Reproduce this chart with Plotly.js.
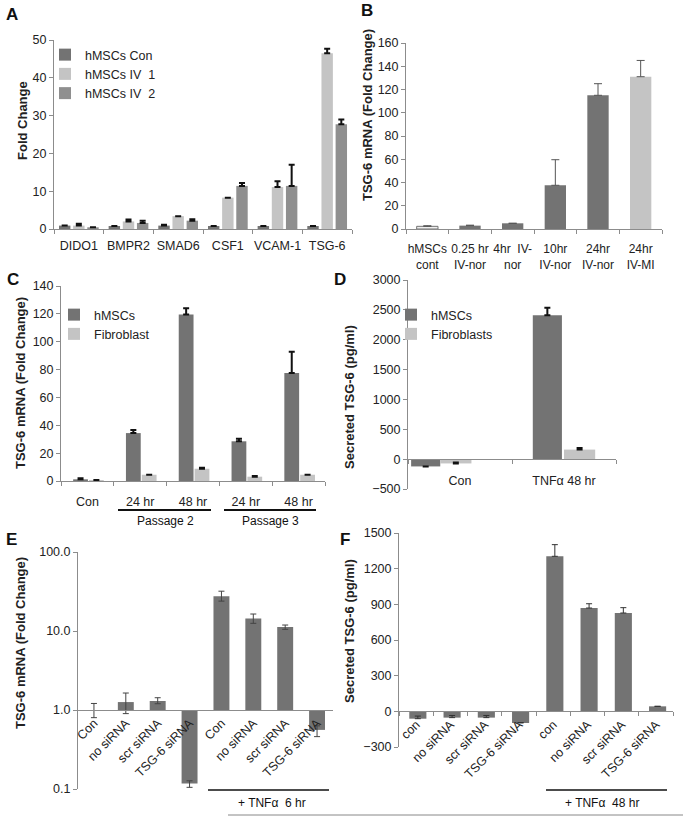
<!DOCTYPE html>
<html>
<head>
<meta charset="utf-8">
<script src="https://cdn.plot.ly/plotly-3.0.1.min.js"></script>
<style>
  body { margin: 0; background: #fff; }
  #chart { width: 683px; height: 816px; }
</style>
</head>
<body>
<div id="chart"></div>
<script>
// ---- data ----
// A: gene panel
const genesA = ['DIDO1', 'BMPR2', 'SMAD6', 'CSF1', 'VCAM-1', 'TSG-6'];
const conA = [0.9, 0.8, 0.9, 0.8, 0.8, 0.8];
const conErrA = [0, 0, 0.25, 0, 0, 0];
const iv1A = [0.9, 2.0, 3.4, 8.3, 11.1, 46.5];
const iv1ErrA = [0.5, 0.5, 0, 0, 1.5, 1.2];
const iv2A = [0.45, 1.6, 2.2, 11.4, 11.4, 27.7];
const iv2ErrA = [0, 0.6, 0.4, 0.8, 5.6, 1.3];

// B: time course
const catsB = ['hMSCs<br>cont', '0.25 hr<br>IV-nor', '4hr  IV-<br>nor', '10hr<br>IV-nor', '24hr<br>IV-nor', '24hr<br>IV-MI'];
const valsB = [2.3, 2.9, 4.9, 37.6, 115, 131];
const errB = [0.5, 0.4, 0, 22, 10, 14];

// C: passages
const keysC = ['con', 'p2_24', 'p2_48', 'p3_24', 'p3_48'];
const labelsC = ['Con', '24 hr', '48 hr', '24 hr', '48 hr'];
const hmscC = [1.2, 34.4, 119.6, 28.5, 77.5];
const hmscErrC = [0.8, 2.2, 4.4, 1.9, 15.3];
const fibroC = [0.7, 4.5, 8.8, 3.1, 4.5];
const fibroErrC = [0, 0, 0.7, 0.5, 0];
const groupsC = ['Passage 2', 'Passage 3'];

// D: secreted protein
const catsD = ['Con', 'TNFα 48 hr'];
const hmscD = [-122, 2410];
const hmscErrD = [0, 125];
const fibroD = [-72, 160];
const fibroErrD = [16, 28];

// E: siRNA mRNA (log)
const keysE = ['e0', 'e1', 'e2', 'e3', 'e4', 'e5', 'e6', 'e7'];
const labelsE = ['Con', 'no siRNA', 'scr siRNA', 'TSG-6 siRNA', 'Con', 'no siRNA', 'scr siRNA', 'TSG-6 siRNA'];
const valsE = [1.0, 1.26, 1.30, 0.117, 27.6, 14.4, 11.2, 0.56];
const errUpE = [0.21, 0.38, 0.13, 0.010, 4.3, 2.0, 0.7, 0.07];
const errDnE = [0.20, 0.36, 0.10, 0.012, 3.7, 1.9, 0.7, 0.10];
const tickValsE = [0.1, 1, 10, 100];
const tickTextE = ['0.1', '1.0', '10.0', '100.0'];

// F: siRNA secreted
const keysF = ['f0', 'f1', 'f2', 'f3', 'f4', 'f5', 'f6', 'f7'];
const labelsF = ['con', 'no siRNA', 'scr siRNA', 'TSG-6 siRNA', 'con', 'no siRNA', 'scr siRNA', 'TSG-6 siRNA'];
const valsF = [-62, -53, -53, -98, 1304, 869, 827, 42];
const errF = [22, 18, 18, 4, 98, 36, 45, 0];

// ---- styling ----
const W = 683, H = 816;
const fx = p => p / W;
const fy = p => 1 - p / H;
const FONT = 'Liberation Sans, Arial, sans-serif';
const DARK = '#737373', MID = '#8f8f8f', LIGHT = '#c4c4c4';
const AXC = '#8c8c8c';

function errs(arr, color, thick, w) {
  return { type: 'data', symmetric: false, array: arr, arrayminus: arr.map(() => 0),
           color: color, thickness: thick, width: w };
}

const traces = [
  // A
  { type: 'bar', name: 'hMSCs Con', x: genesA, y: conA, xaxis: 'x', yaxis: 'y',
    width: 0.23, offset: -0.40, marker: { color: DARK }, error_y: errs(conErrA, '#111', 2, 3) },
  { type: 'bar', name: 'hMSCs IV  1', x: genesA, y: iv1A, xaxis: 'x', yaxis: 'y',
    width: 0.23, offset: -0.115, marker: { color: LIGHT }, error_y: errs(iv1ErrA, '#111', 2, 3) },
  { type: 'bar', name: 'hMSCs IV  2', x: genesA, y: iv2A, xaxis: 'x', yaxis: 'y',
    width: 0.23, offset: 0.17, marker: { color: MID }, error_y: errs(iv2ErrA, '#111', 2, 3) },
  // B
  { type: 'bar', x: catsB, y: valsB, xaxis: 'x2', yaxis: 'y2', showlegend: false,
    width: 0.5, offset: -0.25,
    marker: { color: ['#eeeeee', DARK, DARK, DARK, DARK, LIGHT],
              line: { color: DARK, width: [1, 0, 0, 0, 0, 0] } },
    error_y: errs(errB, '#555', 1, 4) },
  // C
  { type: 'bar', name: 'hMSCs', x: keysC, y: hmscC, xaxis: 'x3', yaxis: 'y3', legend: 'legend2',
    width: 0.28, offset: -0.27, marker: { color: DARK }, error_y: errs(hmscErrC, '#111', 2, 3) },
  { type: 'bar', name: 'Fibroblast', x: keysC, y: fibroC, xaxis: 'x3', yaxis: 'y3', legend: 'legend2',
    width: 0.28, offset: 0.03, marker: { color: LIGHT }, error_y: errs(fibroErrC, '#111', 2, 3) },
  // D
  { type: 'bar', name: 'hMSCs', x: catsD, y: hmscD, xaxis: 'x4', yaxis: 'y4', legend: 'legend3',
    width: 0.28, offset: [-0.47, -0.30], marker: { color: DARK }, error_y: errs(hmscErrD, '#111', 2, 3) },
  { type: 'bar', name: 'Fibroblasts', x: catsD, y: fibroD, xaxis: 'x4', yaxis: 'y4', legend: 'legend3',
    width: 0.30, offset: [-0.19, 0.0], marker: { color: LIGHT }, error_y: errs(fibroErrD, '#111', 2, 3) },
  // E (bars hang from 1.0 like the Excel log axis)
  { type: 'bar', x: keysE, y: valsE.map(v => v - 1), base: 1, xaxis: 'x5', yaxis: 'y5', showlegend: false,
    width: 0.5, offset: -0.25, marker: { color: DARK },
    error_y: { type: 'data', symmetric: false, array: errUpE, arrayminus: errDnE,
               color: '#444', thickness: 1, width: 3 } },
  // F
  { type: 'bar', x: keysF, y: valsF, xaxis: 'x6', yaxis: 'y6', showlegend: false,
    width: 0.5, offset: -0.2, marker: { color: DARK }, error_y: errs(errF, '#333', 1, 3) }
];

const tickFont = { family: FONT, size: 12.5, color: '#222' };
function yax(domTop, domBot, range, extra) {
  return Object.assign({
    domain: [fy(domBot), fy(domTop)], range: range, showline: true, linecolor: AXC, linewidth: 1,
    ticks: 'outside', ticklen: 4, tickcolor: AXC, showgrid: false, zeroline: false,
    tickfont: tickFont, fixedrange: true
  }, extra || {});
}
function xax(left, right, extra) {
  return Object.assign({
    domain: [fx(left), fx(right)], type: 'category', showline: true, linecolor: AXC, linewidth: 1,
    ticks: 'outside', tickson: 'boundaries', ticklen: 4, tickcolor: AXC, showgrid: false,
    zeroline: false, tickfont: tickFont, tickangle: 0, fixedrange: true
  }, extra || {});
}
// place a free x axis on the y = crossing value
function crossAt(yDom, range, v) {
  return yDom[0] + (v - range[0]) / (range[1] - range[0]) * (yDom[1] - yDom[0]);
}

const rangeD = [-500, 3000], rangeE = [-1, 2], rangeF = [-300, 1500];
const yD = yax(280, 489, rangeD, { dtick: 500, anchor: 'x4' });
const yE = yax(552, 789, rangeE, { type: 'log', tickvals: tickValsE, ticktext: tickTextE, anchor: 'x5' });
const yF = yax(533, 747, rangeF, { dtick: 300, anchor: 'x6' });

function ytitle(text, x, y) {
  return { text: '<b>' + text + '</b>', xref: 'paper', yref: 'paper', x: fx(x), y: fy(y),
           xanchor: 'center', yanchor: 'middle',
           textangle: -90, showarrow: false, font: { family: FONT, size: 13, color: '#222' } };
}
function label(text, x, y, size, bold) {
  return { text: bold ? '<b>' + text + '</b>' : text, xref: 'paper', yref: 'paper', x: fx(x), y: fy(y),
           xanchor: 'center', yanchor: 'middle',
           showarrow: false, font: { family: FONT, size: size, color: '#111' } };
}
function hline(x0, x1, y, w, c) {
  return { type: 'line', xref: 'paper', yref: 'paper', x0: fx(x0), x1: fx(x1), y0: fy(y), y1: fy(y),
           line: { color: c || '#111', width: w } };
}

const legendBase = { bgcolor: 'rgba(0,0,0,0)', font: { family: FONT, size: 12.5, color: '#222' },
                     xanchor: 'left', yanchor: 'top', tracegroupgap: 0, itemclick: false };

const layout = {
  width: W, height: H, margin: { l: 0, r: 0, t: 0, b: 0 },
  paper_bgcolor: '#fff', plot_bgcolor: '#fff', barmode: 'overlay',
  font: { family: FONT },
  xaxis: xax(54, 352, { anchor: 'y', ticklabelstandoff: 5 }),
  yaxis: yax(40, 229, [0, 50], { dtick: 10, anchor: 'x' }),
  xaxis2: xax(406, 662, { anchor: 'y2', ticklabelstandoff: 9,
                          tickfont: { family: FONT, size: 12, color: '#222' } }),
  yaxis2: yax(43, 229, [0, 160], { dtick: 20, anchor: 'x2' }),
  xaxis3: xax(61, 325, { anchor: 'y3', tickmode: 'array', tickvals: keysC, ticktext: labelsC,
                         ticklabelstandoff: 9 }),
  yaxis3: yax(286, 481, [0, 140], { dtick: 20, anchor: 'x3' }),
  xaxis4: xax(408, 616, { anchor: 'free', position: crossAt(yD.domain, rangeD, 0), ticklabelstandoff: 10 }),
  yaxis4: yD,
  xaxis5: xax(78, 333, { anchor: 'free', position: crossAt(yE.domain, rangeE, 0),
                         tickmode: 'array', tickvals: keysE, ticktext: labelsE, tickangle: -45,
                         ticks: '' }),
  yaxis5: yE,
  xaxis6: xax(399, 673, { anchor: 'free', position: crossAt(yF.domain, rangeF, 0),
                          tickmode: 'array', tickvals: keysF, ticktext: labelsF, tickangle: -45 }),
  yaxis6: yF,
  legend: Object.assign({ x: fx(45), y: fy(40) }, legendBase),
  legend2: Object.assign({ x: fx(54), y: fy(300) }, legendBase),
  legend3: Object.assign({ x: fx(391), y: fy(300) }, legendBase),
  annotations: [
    label('A', 12, 14, 17, true), label('B', 367, 11, 17, true),
    label('C', 13, 279, 17, true), label('D', 340, 279, 17, true),
    label('E', 11, 539, 17, true), label('F', 345, 539, 17, true),
    ytitle('Fold Change', 22, 121),
    ytitle('TSG-6 mRNA (Fold Change)', 368, 115),
    ytitle('TSG-6 mRNA (Fold Change)', 20, 383),
    ytitle('Secreted TSG-6 (pg/ml)', 349, 397),
    ytitle('TSG-6 mRNA (Fold Change)', 20, 643),
    ytitle('Secreted TSG-6 (pg/ml)', 349, 631),
    label(groupsC[0], 165, 521, 12, false),
    label(groupsC[1], 270, 521, 12, false),
    label('+ TNFα  6 hr', 272, 803, 12, false),
    label('+ TNFα  48 hr', 602, 803, 12, false)
  ],
  shapes: [
    hline(118, 211, 510, 2), hline(224, 316, 510, 2),
    hline(208, 329, 790, 1.5), hline(546, 667, 790, 1.5),
    hline(228, 683, 815, 1, '#888')
  ]
};

Plotly.newPlot('chart', traces, layout, { staticPlot: true });
</script>
</body>
</html>
